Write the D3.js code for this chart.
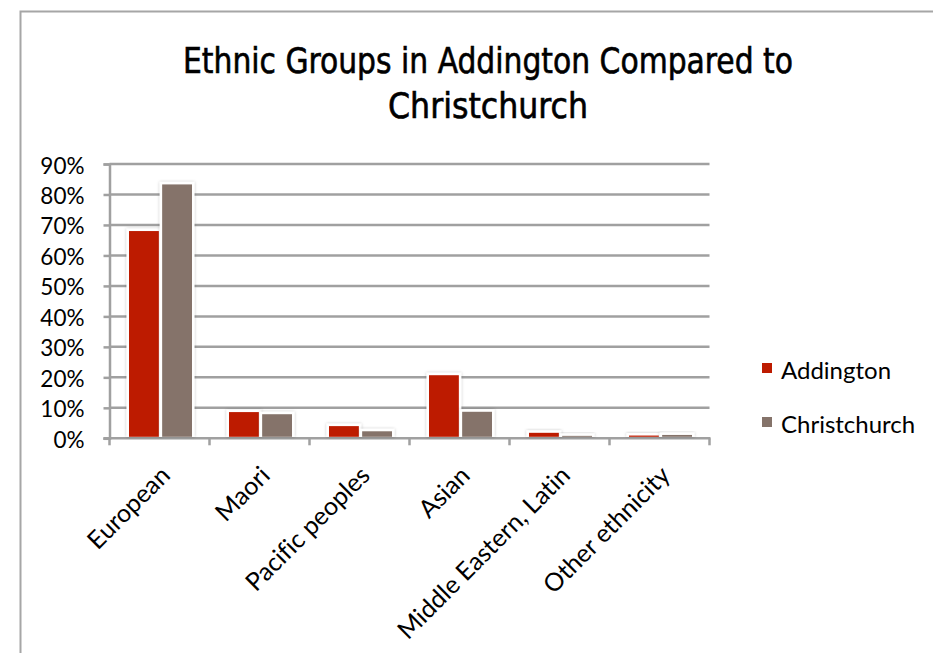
<!DOCTYPE html>
<html>
<head>
<meta charset="utf-8">
<script src="https://cdn.jsdelivr.net/npm/d3@7/dist/d3.min.js"></script>
<style>
  html, body { margin: 0; padding: 0; background: #fff; }
  svg { display: block; }
</style>
</head>
<body>
<svg id="chart" width="933" height="653"></svg>
<script>
const categories = ["European", "Maori", "Pacific peoples", "Asian", "Middle Eastern, Latin", "Other ethnicity"];
const seriesNames = ["Addington", "Christchurch"];
const addington = [0.680, 0.086, 0.040, 0.207, 0.018, 0.009];
const christchurch = [0.833, 0.079, 0.023, 0.087, 0.008, 0.011];
const yTicks = [0, 0.1, 0.2, 0.3, 0.4, 0.5, 0.6, 0.7, 0.8, 0.9];
const titleLines = ["Ethnic Groups in Addington Compared to", "Christchurch"];
const colors = ["#BD1B00", "#85736A"];

const svg = d3.select("#chart");
const labelFont = "Lato, 'Open Sans', sans-serif";
const titleFont = "'DejaVu Sans Condensed', 'DejaVu Sans', sans-serif";

// outer frame
svg.append("path")
  .attr("d", "M20.5,660 L20.5,11.5 L940,11.5")
  .attr("fill", "none").attr("stroke", "#A6A6A6").attr("stroke-width", 2);

// shadow filter
const defs = svg.append("defs");
const f = defs.append("filter").attr("id", "shadow").attr("x", "-30%").attr("y", "-30%").attr("width", "160%").attr("height", "160%");
f.append("feDropShadow").attr("dx", 0).attr("dy", 0).attr("stdDeviation", 1.5).attr("flood-color", "#000").attr("flood-opacity", 0.25);

// title
const title = svg.append("g");
title.append("text")
  .attr("x", 488).attr("y", 73)
  .attr("text-anchor", "middle")
  .attr("font-family", titleFont).attr("font-stretch", "condensed")
  .attr("font-size", 36)
  .attr("textLength", 610).attr("lengthAdjust", "spacingAndGlyphs")
  .attr("fill", "#000").attr("stroke", "#000").attr("stroke-width", 0.6)
  .text(titleLines[0]);
title.append("text")
  .attr("x", 488).attr("y", 118)
  .attr("text-anchor", "middle")
  .attr("font-family", titleFont).attr("font-stretch", "condensed")
  .attr("font-size", 36)
  .attr("textLength", 200).attr("lengthAdjust", "spacingAndGlyphs")
  .attr("fill", "#000").attr("stroke", "#000").attr("stroke-width", 0.6)
  .text(titleLines[1]);

const x0 = 109.5, x1 = 709.5, yTop = 164, yBot = 438.3;
const x = d3.scaleBand().domain(categories).range([x0, x1]).padding(0);
const xs = d3.scaleBand().domain(seriesNames).range([19.5, 82.5]).paddingInner(0.1);
const y = d3.scaleLinear().domain([0, 0.9]).range([yBot, yTop]);

const gridColor = "#A0A0A0";

// gridlines + y axis
const yAxis = d3.axisLeft(y).tickValues(yTicks).tickSize(6).tickFormat(d3.format(".0%"));
const gy = svg.append("g").attr("transform", `translate(${x0},0)`).call(yAxis);
gy.select(".domain").attr("stroke", gridColor).attr("stroke-width", 2.5);
gy.selectAll(".tick line").attr("stroke", gridColor).attr("stroke-width", 2.5);
gy.selectAll(".tick text")
  .attr("x", -25).attr("dy", "0.4em")
  .attr("font-family", labelFont).attr("font-size", 22.5).attr("fill", "#000");

svg.append("g").selectAll("line").data(yTicks.filter(d => d > 0)).join("line")
  .attr("x1", x0).attr("x2", x1)
  .attr("y1", d => y(d)).attr("y2", d => y(d))
  .attr("stroke", gridColor).attr("stroke-width", 2.5);

// x axis
const gx = svg.append("g").attr("transform", `translate(0,${yBot})`);
gx.append("line").attr("x1", x0 - 6).attr("x2", x1 + 1).attr("y1", 0).attr("y2", 0)
  .attr("stroke", gridColor).attr("stroke-width", 2.5);
const bounds = categories.map(c => x(c)).concat([x1]);
gx.selectAll("line.bt").data(bounds).join("line").attr("class", "bt")
  .attr("x1", d => d).attr("x2", d => d).attr("y1", 0).attr("y2", 7)
  .attr("stroke", gridColor).attr("stroke-width", 2.5);

// bars
const data = [addington, christchurch];
const bars = svg.append("g");
const pad = 2.5;
categories.forEach((c, i) => {
  seriesNames.forEach((s, j) => {
    const v = data[j][i];
    const bx = x(c) + xs(s), by = y(v), bw = xs.bandwidth(), bh = yBot - 1.5 - y(v);
    bars.append("rect")
      .attr("x", bx - pad).attr("y", by - pad)
      .attr("width", bw + 2 * pad).attr("height", Math.max(0, bh) + pad)
      .attr("fill", "#fff")
      .attr("filter", "url(#shadow)");
    bars.append("rect")
      .attr("x", bx).attr("y", by)
      .attr("width", bw).attr("height", Math.max(0, bh))
      .attr("fill", colors[j]);
  });
});

// x labels
svg.append("g").selectAll("text").data(categories).join("text")
  .attr("transform", d => `translate(${x(d) + x.bandwidth() / 2 + 12},${477}) rotate(-45)`)
  .attr("text-anchor", "end")
  .attr("font-family", labelFont).attr("font-size", 25)
  .style("font-variant-ligatures", "none").attr("fill", "#000")
  .text(d => d);

// legend
const legend = svg.append("g");
seriesNames.forEach((s, j) => {
  const ly = 363 + j * 54;
  legend.append("rect").attr("x", 762).attr("y", ly).attr("width", 10).attr("height", 10).attr("fill", colors[j]);
  legend.append("text").attr("x", 781).attr("y", ly + 15.5)
    .attr("font-family", labelFont).attr("font-size", 24).attr("fill", "#000").text(s);
});
</script>
</body>
</html>
